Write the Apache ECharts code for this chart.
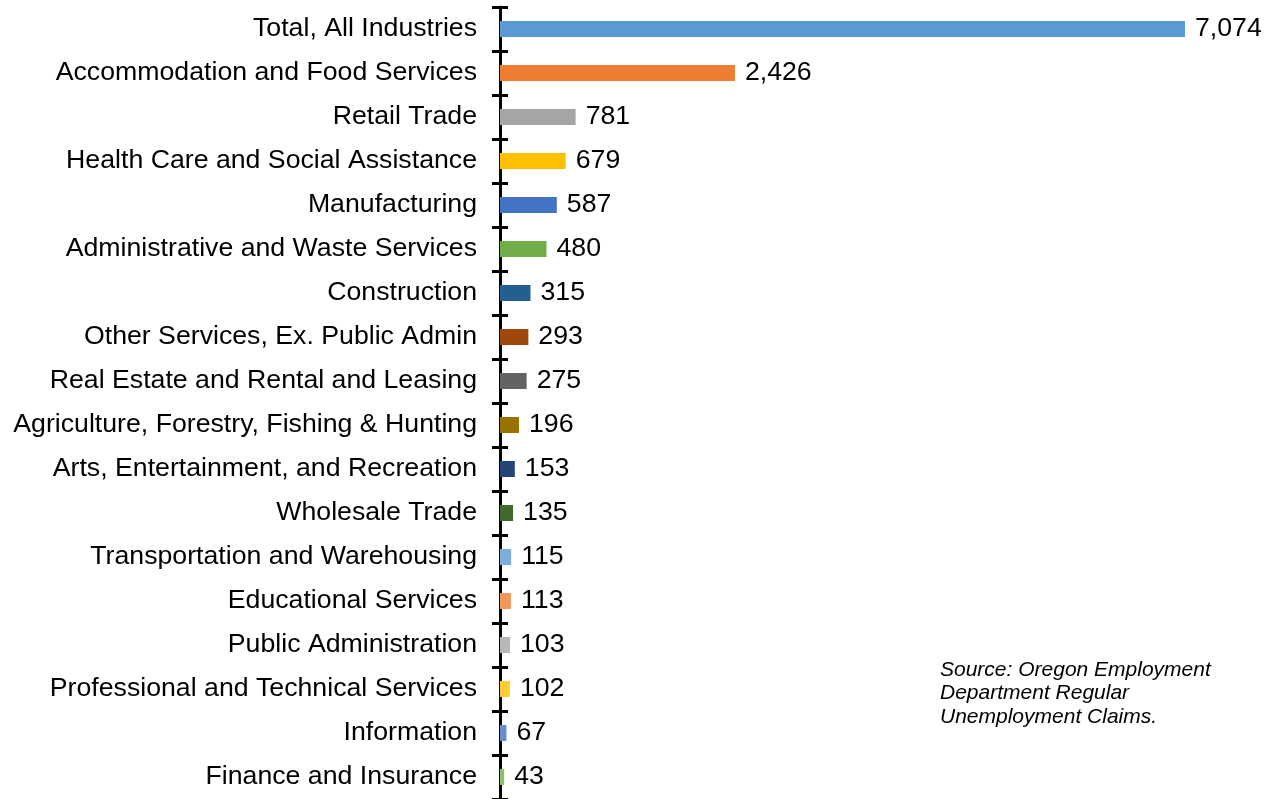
<!DOCTYPE html>
<html>
<head>
<meta charset="utf-8">
<script src="https://cdn.jsdelivr.net/npm/echarts@6/dist/echarts.min.js"></script>
<style>
  html, body { margin: 0; padding: 0; background: #fff; }
  #chart { width: 1280px; height: 799px; }
</style>
</head>
<body>
<div id="chart"></div>
<script>
// industries, top to bottom
const industries = [
  'Total, All Industries',
  'Accommodation and Food Services',
  'Retail Trade',
  'Health Care and Social Assistance',
  'Manufacturing',
  'Administrative and Waste Services',
  'Construction',
  'Other Services, Ex. Public Admin',
  'Real Estate and Rental and Leasing',
  'Agriculture, Forestry, Fishing & Hunting',
  'Arts, Entertainment, and Recreation',
  'Wholesale Trade',
  'Transportation and Warehousing',
  'Educational Services',
  'Public Administration',
  'Professional and Technical Services',
  'Information',
  'Finance and Insurance'
]
const claims = [7074, 2426, 781, 679, 587, 480, 315, 293, 275, 196, 153, 135, 115, 113, 103, 102, 67, 43]
const barColors = [
  '#5B9BD5', '#ED7D31', '#A5A5A5', '#FFC000', '#4472C4', '#70AD47',
  '#255E91', '#9E480E', '#636363', '#997300', '#264478', '#43682B',
  '#7CAFDD', '#F1975A', '#B7B7B7', '#FFCD33', '#698ED0', '#8CC168'
]
const sourceNote = 'Source: Oregon Employment\nDepartment Regular\nUnemployment Claims.'

const FONT = '"Liberation Sans", Arial, sans-serif'

const chart = echarts.init(document.getElementById('chart'))

const option = {
  animation: false,
  backgroundColor: '#fff',
  textStyle: { fontFamily: FONT },
  grid: { left: 500, top: 7, width: 685, height: 792 },
  xAxis: {
    type: 'value',
    min: 0,
    max: 7074,
    show: false
  },
  yAxis: [
    {
      type: 'category',
      data: industries,
      inverse: true,
      position: 'left',
      axisLine: { show: true, lineStyle: { color: '#000', width: 3 } },
      axisTick: { show: true, length: 8, lineStyle: { color: '#000', width: 3 } },
      axisLabel: { color: '#000', fontSize: 26.7, fontFamily: FONT, margin: 23 }
    },
    {
      // second axis only to draw the inner half of the crossing ticks
      type: 'category',
      data: industries,
      inverse: true,
      position: 'left',
      axisLine: { show: false },
      axisTick: { show: true, inside: true, length: 8, lineStyle: { color: '#000', width: 3 } },
      axisLabel: { show: false }
    }
  ],
  series: [{
    type: 'bar',
    barWidth: 16,
    data: claims.map((v, i) => ({ value: v, itemStyle: { color: barColors[i] } })),
    label: {
      show: true,
      position: 'right',
      distance: 10,
      color: '#000',
      fontSize: 26.7,
      fontFamily: FONT,
      formatter: p => p.value.toLocaleString('en-US')
    }
  }],
  graphic: [{
    type: 'text',
    left: 940,
    top: 658,
    style: {
      text: sourceNote,
      fontSize: 21,
      fontStyle: 'italic',
      lineHeight: 23.5,
      fill: '#000',
      fontFamily: FONT
    }
  }]
}

chart.setOption(option)
</script>
</body>
</html>
